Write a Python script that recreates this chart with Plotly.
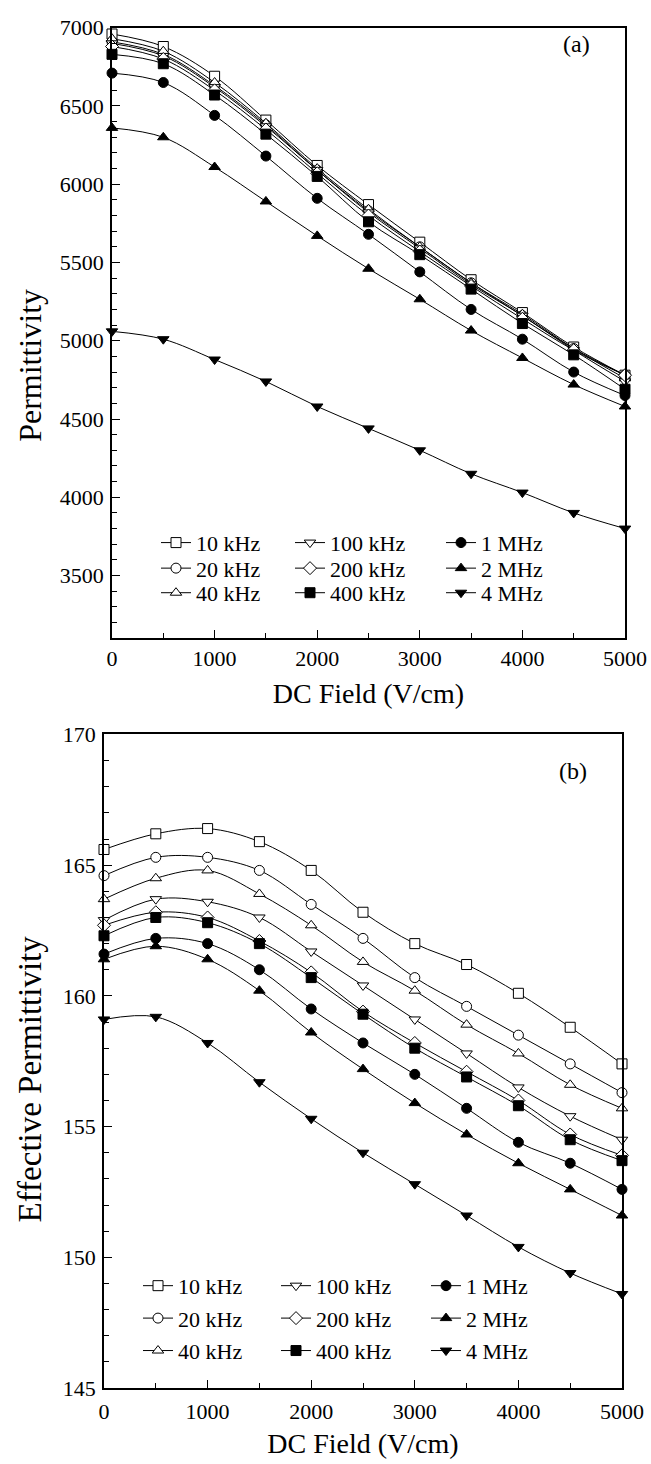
import plotly.graph_objects as go

field = [0, 500, 1000, 1500, 2000, 2500, 3000, 3500, 4000, 4500, 5000]

freq_labels = ["10 kHz", "20 kHz", "40 kHz", "100 kHz", "200 kHz", "400 kHz", "1 MHz", "2 MHz", "4 MHz"]

# Panel (a): Permittivity
perm_10k = [6960, 6880, 6690, 6410, 6120, 5870, 5630, 5390, 5180, 4960, 4780]
perm_20k = [6910, 6830, 6630, 6380, 6090, 5830, 5600, 5370, 5160, 4950, 4780]
perm_40k = [6930, 6850, 6650, 6390, 6100, 5840, 5600, 5370, 5170, 4950, 4760]
perm_100k = [6900, 6820, 6620, 6370, 6090, 5820, 5590, 5360, 5160, 4940, 4740]
perm_200k = [6880, 6800, 6600, 6350, 6070, 5800, 5570, 5350, 5140, 4940, 4780]
perm_400k = [6830, 6770, 6570, 6320, 6050, 5760, 5550, 5330, 5110, 4910, 4690]
perm_1M = [6710, 6650, 6440, 6180, 5910, 5680, 5440, 5200, 5010, 4800, 4650]
perm_2M = [6360, 6300, 6110, 5890, 5670, 5460, 5265, 5065, 4890, 4720, 4580]
perm_4M = [5060, 5010, 4880, 4740, 4580, 4440, 4300, 4150, 4030, 3900, 3800]

# Panel (b): Effective permittivity
eff_10k = [165.6, 166.2, 166.4, 165.9, 164.8, 163.2, 162.0, 161.2, 160.1, 158.8, 157.4]
eff_20k = [164.6, 165.3, 165.3, 164.8, 163.5, 162.2, 160.7, 159.6, 158.5, 157.4, 156.3]
eff_40k = [163.7, 164.5, 164.8, 163.9, 162.7, 161.3, 160.2, 158.9, 157.8, 156.6, 155.7]
eff_100k = [162.9, 163.7, 163.6, 163.0, 161.7, 160.4, 159.1, 157.8, 156.5, 155.4, 154.5]
eff_200k = [162.7, 163.2, 163.0, 162.1, 160.9, 159.4, 158.2, 157.1, 156.0, 154.7, 153.9]
eff_400k = [162.3, 163.0, 162.8, 162.0, 160.7, 159.3, 158.0, 156.9, 155.8, 154.5, 153.7]
eff_1M = [161.6, 162.2, 162.0, 161.0, 159.5, 158.2, 157.0, 155.7, 154.4, 153.6, 152.6]
eff_2M = [161.4, 161.9, 161.4, 160.2, 158.6, 157.2, 155.9, 154.7, 153.6, 152.6, 151.6]
eff_4M = [159.1, 159.2, 158.2, 156.7, 155.3, 154.0, 152.8, 151.6, 150.4, 149.4, 148.6]

perm_series = [perm_10k, perm_20k, perm_40k, perm_100k, perm_200k, perm_400k, perm_1M, perm_2M, perm_4M]
eff_series = [eff_10k, eff_20k, eff_40k, eff_100k, eff_200k, eff_400k, eff_1M, eff_2M, eff_4M]

symbols = ["square", "circle", "triangle-up", "triangle-down", "diamond",
           "square", "circle", "triangle-up", "triangle-down"]
filled = [False, False, False, False, False, True, True, True, True]

W, H = 651, 1464
ML, MR = 104, 26
PW = W - ML - MR
FONT = "Liberation Serif, Times New Roman, Times, DejaVu Serif, serif"

TOP_PANEL = (16, 637)
BOT_PANEL = (735, 1400)

# legend grid: series i -> (row, col); 3 columns x 3 rows
legend_cell = {0: (0, 0), 1: (1, 0), 2: (2, 0),
               3: (0, 1), 4: (1, 1), 5: (2, 1),
               6: (0, 2), 7: (1, 2), 8: (2, 2)}
# legend layout in pixels (marker x per column, y per row)
top_leg_cols = [176, 310, 461]
top_leg_rows = [540, 566, 591]
bot_leg_cols = [158, 296, 446]
bot_leg_rows = [1296, 1329, 1362]

fig = go.Figure()
legend_layouts = {}


def legend_key(n):
    return "legend" if n == 1 else f"legend{n}"


def add_panel(series, xa, ya, base, cols, rows, fsize):
    for i in range(len(series)):
        n = base + i
        fill = "black" if filled[i] else "white"
        fig.add_trace(go.Scatter(
            x=field, y=series[i], name=freq_labels[i],
            mode="lines+markers",
            line=dict(color="black", width=1, shape="spline", smoothing=1.0),
            marker=dict(symbol=symbols[i], size=10, color=fill,
                        line=dict(color="black", width=1)),
            xaxis=xa, yaxis=ya, legend=legend_key(n), cliponaxis=False,
        ))
        r, c = legend_cell[i]
        legend_layouts[legend_key(n)] = dict(
            x=(cols[c] - 20 - ML) / PW, y=1 - rows[r] / H,
            xanchor="left", yanchor="middle", orientation="v",
            bgcolor="rgba(0,0,0,0)", itemwidth=30,
            font=dict(family=FONT, size=fsize, color="black"),
        )


add_panel(perm_series, "x", "y", 1, top_leg_cols, top_leg_rows, 22)
add_panel(eff_series, "x2", "y2", 10, bot_leg_cols, bot_leg_rows, 22)


def px_x(a, b):
    return [(a - ML) / PW, (b - ML) / PW]


def px_y(top, bottom):
    return [1 - bottom / H, 1 - top / H]


axis_common = dict(
    showline=True, linecolor="black", linewidth=1.5, mirror=True,
    ticks="inside", ticklen=8, tickwidth=1.2, tickcolor="black",
    showgrid=False, zeroline=False,
    tickfont=dict(family=FONT, size=22, color="black"),
)
xtitle_font = dict(family=FONT, size=28, color="black")

fig.update_layout(
    width=W, height=H,
    margin=dict(l=ML, r=MR, t=0, b=0),
    paper_bgcolor="white", plot_bgcolor="white",
    showlegend=True,
    xaxis=dict(domain=px_x(112, 625), range=[0, 5000], anchor="y",
               tickvals=[0, 1000, 2000, 3000, 4000, 5000], ticklabelstandoff=0,
               minor=dict(dtick=500, ticks="inside", ticklen=5, tickcolor="black"),
               title=dict(text="DC Field (V/cm)", font=xtitle_font, standoff=13),
               **axis_common),
    yaxis=dict(domain=px_y(*TOP_PANEL), range=[3100, 7000], anchor="x",
               tickvals=[3500, 4000, 4500, 5000, 5500, 6000, 6500, 7000], ticklabelstandoff=2,
               minor=dict(dtick=100, ticks="inside", ticklen=5, tickcolor="black"),
               **axis_common),
    xaxis2=dict(domain=px_x(104, 622), range=[0, 5000], anchor="y2",
                tickvals=[0, 1000, 2000, 3000, 4000, 5000], ticklabelstandoff=3,
                minor=dict(dtick=500, ticks="inside", ticklen=5, tickcolor="black"),
                title=dict(text="DC Field (V/cm)", font=xtitle_font, standoff=10),
                **axis_common),
    yaxis2=dict(domain=px_y(*BOT_PANEL), range=[145, 170], anchor="x2",
                tickvals=[145, 150, 155, 160, 165, 170], ticklabelstandoff=2,
                minor=dict(dtick=1, ticks="inside", ticklen=5, tickcolor="black"),
                **axis_common),
    **legend_layouts,
)

# y-axis titles (placed as rotated text, slightly below the panel centre as in the original)
fig.add_annotation(text="Permittivity", xref="paper", yref="paper",
                   x=(30 - ML) / PW, y=1 - 360 / H, textangle=-90,
                   showarrow=False, xanchor="center", yanchor="middle",
                   font=dict(family=FONT, size=32, color="black"))
fig.add_annotation(text="Effective Permittivity", xref="paper", yref="paper",
                   x=(30 - ML) / PW, y=1 - 1086 / H, textangle=-90,
                   showarrow=False, xanchor="center", yanchor="middle",
                   font=dict(family=FONT, size=33, color="black"))

fig.add_annotation(text="(a)", xref="x domain", yref="y domain", x=0.905, y=1 - 1 / 621,
                   showarrow=False, xanchor="center", yanchor="top",
                   font=dict(family=FONT, size=24, color="black"))
fig.add_annotation(text="(b)", xref="x2 domain", yref="y2 domain", x=0.905, y=1 - 22 / 665,
                   showarrow=False, xanchor="center", yanchor="top",
                   font=dict(family=FONT, size=24, color="black"))

fig.write_html("out.html")
